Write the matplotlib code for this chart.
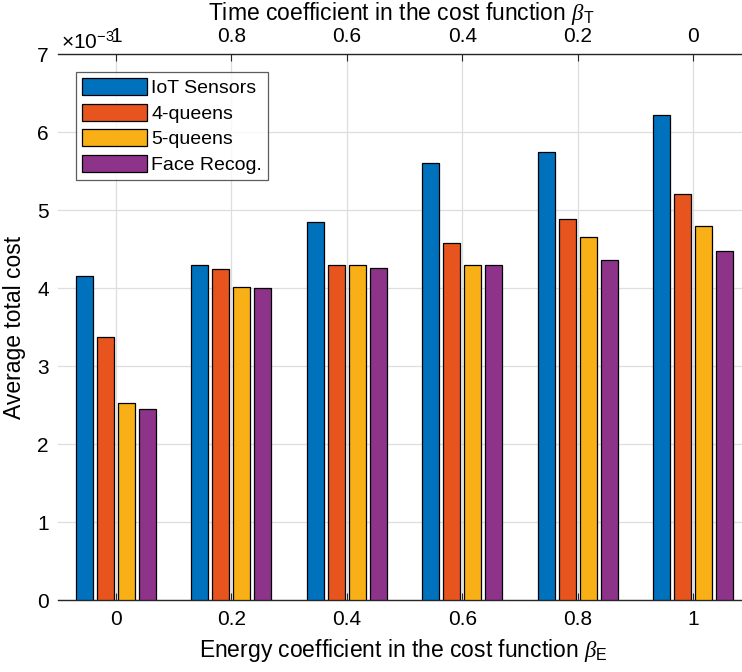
import matplotlib
matplotlib.use("Agg")
import matplotlib.pyplot as plt
import numpy as np

plt.rcParams['font.family'] = ['Liberation Sans', 'DejaVu Sans']
plt.rcParams['mathtext.fontset'] = 'custom'
plt.rcParams['mathtext.rm'] = 'Liberation Sans'
plt.rcParams['mathtext.it'] = 'Liberation Serif:italic'
plt.rcParams['mathtext.bf'] = 'Liberation Sans:bold'

# Data (values in units of 1e-3)
beta_E = [0, 0.2, 0.4, 0.6, 0.8, 1]
beta_T_labels = ['1', '0.8', '0.6', '0.4', '0.2', '0']
x_labels = ['0', '0.2', '0.4', '0.6', '0.8', '1']
series_names = ['IoT Sensors', '4-queens', '5-queens', 'Face Recog.']
iot = [4.15, 4.30, 4.84, 5.60, 5.74, 6.22]
queens4 = [3.37, 4.24, 4.30, 4.58, 4.88, 5.20]
queens5 = [2.52, 4.01, 4.29, 4.30, 4.66, 4.79]
face = [2.45, 4.00, 4.26, 4.30, 4.36, 4.47]
series = [iot, queens4, queens5, face]
colors = ['#0072BD', '#E8541E', '#F8B016', '#8E338A']

W, H = 742, 672
fig = plt.figure(figsize=(W/100, H/100), dpi=100)
ax = fig.add_axes([58/W, 72/H, (751-58)/W, (600-54)/H])

slot = 0.2 * (4/5.5) / 4
bw = slot * 0.8
xs = np.array(beta_E)
for i, (vals, c, name) in enumerate(zip(series, colors, series_names)):
    ax.bar(xs + (i - 1.5) * slot, vals, width=bw, color=c, edgecolor='black',
           linewidth=0.9, label=name, zorder=3)

ax.set_xlim(-0.1, 1.1)
ax.set_ylim(0, 7)
ax.set_xticks(beta_E)
ax.set_xticklabels(x_labels)
ax.set_yticks(range(0, 8))
ax.grid(True, color='#dedede', linewidth=0.9, zorder=0)
ax.set_axisbelow(True)
for s in ['left', 'right']:
    ax.spines[s].set_visible(False)
for s in ['top', 'bottom']:
    ax.spines[s].set_color('#262626')
    ax.spines[s].set_linewidth(1.0)
ax.tick_params(axis='x', direction='in', length=5, width=0.8, color='#262626',
               labelsize=15, pad=7.5, labelcolor='#000000')
ax.tick_params(axis='y', length=0, labelsize=15, pad=6.5)

ax2 = ax.twiny()
ax2.set_xlim(ax.get_xlim())
ax2.set_xticks(beta_E)
ax2.set_xticklabels(beta_T_labels)
ax2.tick_params(axis='x', direction='in', length=5, width=0.8, color='#262626',
                labelsize=15, pad=5.5)
for s in ['left', 'right', 'bottom', 'top']:
    ax2.spines[s].set_visible(False)

fig.text(403/W, 1 - 657/H, r'Energy coefficient in the cost function $\beta_{\mathrm{E}}$',
         fontsize=16.5, ha='center', va='baseline')
fig.text(401/W, 1 - 20/H, r'Time coefficient in the cost function $\beta_{\mathrm{T}}$',
         fontsize=16.5, ha='center', va='baseline')
fig.text(15/W, 1 - 327/H, 'Average total cost', fontsize=16.5, rotation=90,
         ha='center', va='center')

fig.text(61/W, 1 - 49/H, r'$\times10^{-3}$', fontsize=15, ha='left', va='baseline')

leg = ax.legend(loc='upper left', bbox_to_anchor=(76/W, 1 - 72/H),
                bbox_transform=fig.transFigure, borderaxespad=0, fontsize=14,
                frameon=True, fancybox=False, edgecolor='#333333',
                handlelength=3.3, handleheight=0.95, handletextpad=0.23,
                labelspacing=0.33, borderpad=0.33)
leg.get_frame().set_linewidth(0.9)

fig.savefig('out.png', dpi=100)
